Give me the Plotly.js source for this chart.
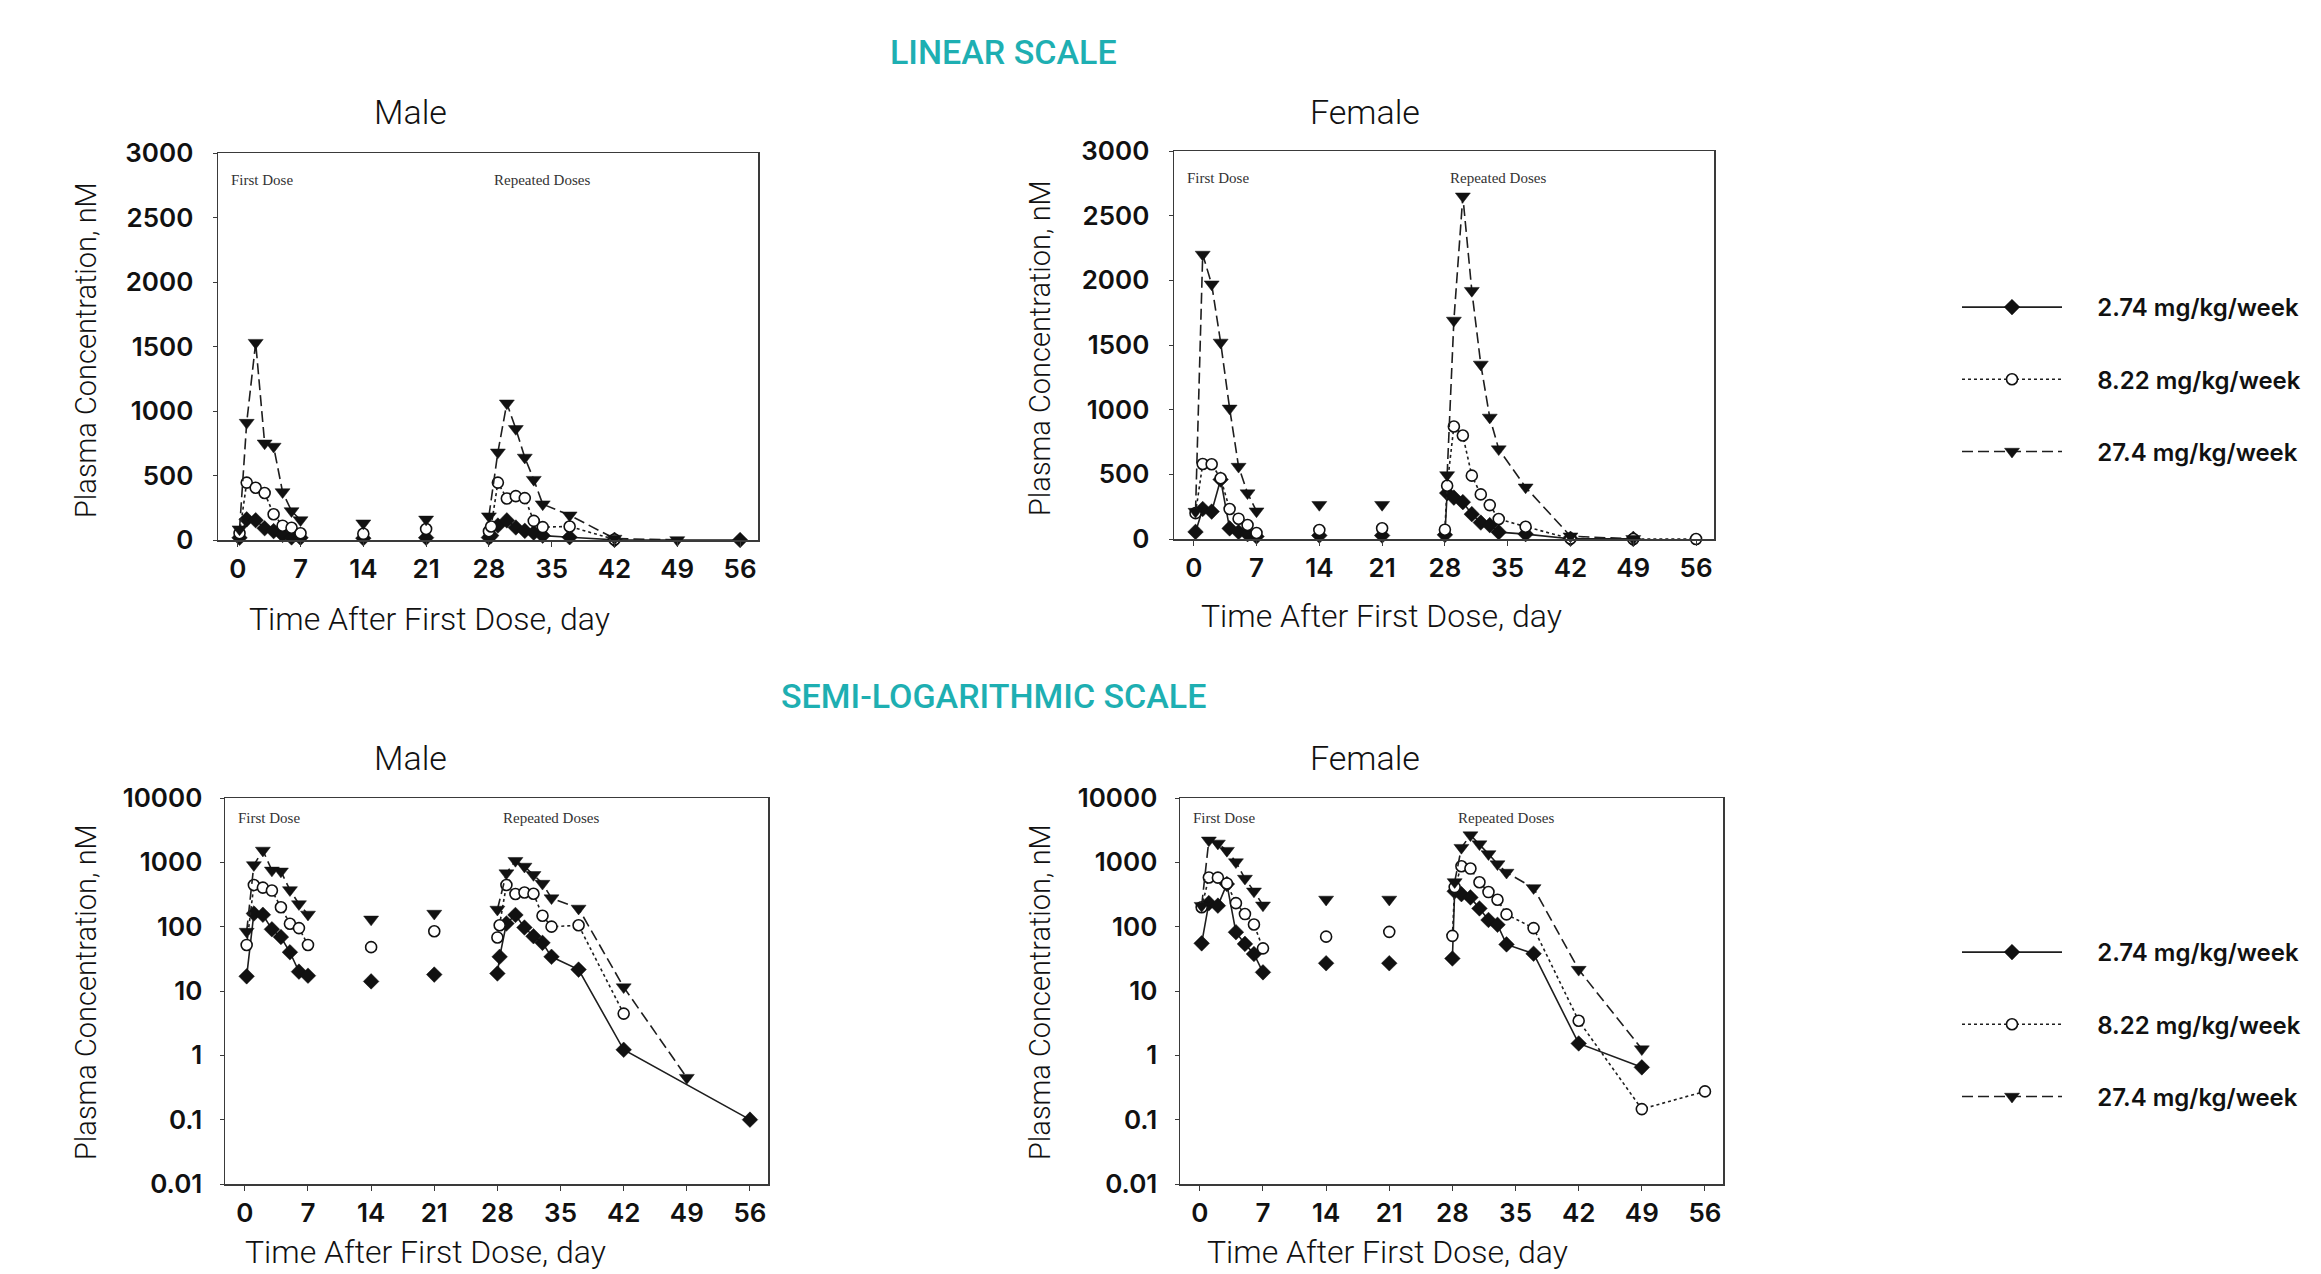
<!DOCTYPE html>
<html>
<head>
<meta charset="utf-8">
<script src="https://cdn.plot.ly/plotly-3.0.1.min.js"></script>
<style>html,body{margin:0;padding:0;background:#fff;}#chart{width:2321px;height:1274px;}</style>
</head>
<body>
<div id="chart"></div>
<script>
// ---- DATA ----
const days = [0.2, 1, 2, 3, 4, 5, 6, 7, 14, 21, 28, 28.25, 29, 30, 31, 32, 33, 34, 37, 42, 49, 56];
const phase = ['first','first','first','first','first','first','first','first',
               'interim','interim',
               'repeated','repeated','repeated','repeated','repeated','repeated','repeated','repeated','repeated','repeated','repeated','repeated'];
const doseLabels = ['2.74 mg/kg/week', '8.22 mg/kg/week', '27.4 mg/kg/week'];

const male_274  = [16.9, 160, 153, 91, 69, 40, 20, 17.3, 14.1, 18, 18.7, 34, 112, 152, 97, 71, 56, 34, 21.5, 1.22, null, 0.1];
const male_822  = [52, 445, 405, 364, 200, 111, 95, 52, 48, 85, 68, 105, 445, 322, 340, 325, 148, 100, 105, 4.45, null, null];
const male_2740 = [84, 910, 1530, 750, 725, 372, 225, 155, 130, 160, 185, null, 680, 1060, 862, 640, 468, 278, 192, 11.5, 0.45, null];

const female_274  = [55, 232, 212, 460, 82, 54, 37.6, 19.5, 27, 27, 32, 355, 320, 285, 192, 127, 107, 53, 38, 1.53, 0.65, null];
const female_822  = [200, 580, 578, 470, 232, 157, 108, 46, 70, 83, 72, 412, 870, 800, 490, 345, 262, 155, 95, 3.45, 0.146, 0.275];
const female_2740 = [212, 2200, 1970, 1520, 1010, 560, 355, 215, 265, 265, null, 495, 1690, 2650, 1920, 1350, 940, 695, 400, 21.5, 1.25, null];

const xTicks = [0, 7, 14, 21, 28, 35, 42, 49, 56];
const linTicks = [0, 500, 1000, 1500, 2000, 2500, 3000];
const logTicks = [0.01, 0.1, 1, 10, 100, 1000, 10000];
const logTickText = ['0.01', '0.1', '1', '10', '100', '1000', '10000'];

// ---- STYLES ----
const lineCol = '#1e1e1e';
const styles = [
  {dash: 'solid', symbol: 'diamond', size: 12, fill: '#111', lw: 1.6},
  {dash: 'dot', symbol: 'circle', size: 11, fill: '#ffffff', lw: 1.6},
  {dash: '11px,5px', symbol: 'triangle-down', size: 13, fill: '#111', lw: 1.6}
];
const legendPad = '\u00a0\u00a0\u00a0\u00a0\u00a0';

const traces = [];
function addSeries(vals, doseIdx, xa, ya, legendId, showLeg) {
  const st = styles[doseIdx];
  ['first', 'interim', 'repeated'].forEach(function (ph, k) {
    const xs = [], ys = [];
    days.forEach(function (d, i) {
      if (phase[i] === ph && vals[i] !== null) { xs.push(d); ys.push(vals[i]); }
    });
    traces.push({
      type: 'scatter',
      x: xs, y: ys,
      xaxis: xa, yaxis: ya,
      mode: ph === 'interim' ? 'markers' : 'lines+markers',
      name: legendPad + doseLabels[doseIdx],
      legend: legendId,
      legendgroup: legendId + '-' + doseIdx,
      showlegend: showLeg && k === 0,
      cliponaxis: false,
      line: {color: lineCol, width: st.lw, dash: st.dash},
      marker: {symbol: st.symbol, size: st.size, color: st.fill,
               line: {color: '#111', width: doseIdx === 1 ? 1.6 : 0.5}},
      hoverinfo: 'x+y+name'
    });
  });
}

const maleSets = [male_274, male_822, male_2740];
const femaleSets = [female_274, female_822, female_2740];
[0, 1, 2].forEach(function (i) {
  addSeries(maleSets[i], i, 'x', 'y', 'legend', true);
  addSeries(femaleSets[i], i, 'x2', 'y2', 'legend', false);
  addSeries(maleSets[i], i, 'x3', 'y3', 'legend2', true);
  addSeries(femaleSets[i], i, 'x4', 'y4', 'legend2', false);
});

// ---- LAYOUT ----
const W = 2321, H = 1274;
const tickFont = {family: 'Inter, "Noto Sans", sans-serif', size: 26, color: '#111', weight: 600};
function px(x) { return x / W; }
function py(y) { return 1 - y / H; }

function xAxis(l, r, anchor) {
  return {
    domain: [px(l), px(r)], anchor: anchor, range: [-2.2, 58],
    tickvals: xTicks, ticktext: xTicks.map(String),
    showline: true, mirror: true, linecolor: '#3a3a3a', linewidth: 1.5,
    ticks: 'outside', ticklen: 5, tickcolor: '#3a3a3a',
    ticklabelstandoff: 0,
    showgrid: false, zeroline: false, tickfont: tickFont
  };
}
function yLin(t, b, anchor) {
  return {
    domain: [py(b), py(t)], anchor: anchor, range: [0, 3000],
    tickvals: linTicks, ticktext: linTicks.map(String),
    showline: true, mirror: true, linecolor: '#3a3a3a', linewidth: 1.5,
    ticks: 'outside', ticklen: 4, tickcolor: '#3a3a3a', ticklabelstandoff: 14,
    showgrid: false, zeroline: false, tickfont: tickFont
  };
}
function yLog(t, b, anchor) {
  return {
    type: 'log', domain: [py(b), py(t)], anchor: anchor, range: [-2, 4],
    tickvals: logTicks, ticktext: logTickText,
    showline: true, mirror: true, linecolor: '#3a3a3a', linewidth: 1.5,
    ticks: 'outside', ticklen: 4, tickcolor: '#3a3a3a', ticklabelstandoff: 12,
    showgrid: false, zeroline: false, tickfont: tickFont
  };
}

const titleFont = {family: 'Roboto, "Open Sans", sans-serif', size: 34, color: '#111', weight: 300};
const axTitleFont = {family: 'Roboto, "Open Sans", sans-serif', size: 32, color: '#111', weight: 300};
const yTitleFont = {family: 'Roboto, "Open Sans", sans-serif', size: 29, color: '#111', weight: 300};
const headFont = {family: 'Roboto, "Open Sans", sans-serif', size: 34, color: '#1eafb2', weight: 500};
const noteFont = {family: '"Liberation Serif", "DejaVu Serif", serif', size: 15, color: '#333'};

function ann(text, x, y, font, extra) {
  return Object.assign({text: text, x: px(x), y: py(y), xref: 'paper', yref: 'paper',
    showarrow: false, xanchor: 'center', yanchor: 'middle', font: font}, extra || {});
}
function note(text, x, xa, ya, shift) {
  return {text: text, x: x, y: 1, xref: xa, yref: ya + ' domain', xanchor: 'left', yanchor: 'top',
    yshift: shift, showarrow: false, font: noteFont};
}

const annotations = [
  ann('LINEAR SCALE', 1003, 52, headFont),
  ann('SEMI-LOGARITHMIC SCALE', 993, 696, headFont),
  ann('Male', 410, 112, titleFont),
  ann('Female', 1365, 112, titleFont),
  ann('Male', 410, 758, titleFont),
  ann('Female', 1365, 758, titleFont),
  ann('Time After First Dose, day', 429, 619, axTitleFont),
  ann('Time After First Dose, day', 1381, 616, axTitleFont),
  ann('Time After First Dose, day', 425, 1252, axTitleFont),
  ann('Time After First Dose, day', 1387, 1252, axTitleFont),
  ann('Plasma Concentration, nM', 86, 350, yTitleFont, {textangle: -90}),
  ann('Plasma Concentration, nM', 1040, 348, yTitleFont, {textangle: -90}),
  ann('Plasma Concentration, nM', 86, 992, yTitleFont, {textangle: -90}),
  ann('Plasma Concentration, nM', 1040, 992, yTitleFont, {textangle: -90}),
  note('First Dose', -1.0, 'x', 'y', -17),
  note('Repeated Doses', 28.4, 'x', 'y', -17),
  note('First Dose', -1.0, 'x2', 'y2', -17),
  note('Repeated Doses', 28.4, 'x2', 'y2', -17),
  note('First Dose', -1.0, 'x3', 'y3', -10),
  note('Repeated Doses', 28.4, 'x3', 'y3', -10),
  note('First Dose', -1.0, 'x4', 'y4', -10),
  note('Repeated Doses', 28.4, 'x4', 'y4', -10)
];

const legendFont = {family: 'Inter, "Noto Sans", sans-serif', size: 24, color: '#111', weight: 600};
function legendBox(x, y) {
  return {x: px(x), y: py(y), xanchor: 'left', yanchor: 'top', font: legendFont,
    bgcolor: 'rgba(0,0,0,0)', borderwidth: 0, tracegroupgap: 38, itemwidth: 100,
    itemsizing: 'trace', traceorder: 'grouped'};
}

const layout = {
  width: W, height: H,
  margin: {l: 0, r: 0, t: 0, b: 0},
  paper_bgcolor: '#ffffff', plot_bgcolor: '#ffffff',
  showlegend: true,
  xaxis: xAxis(218, 758, 'y'),
  yaxis: yLin(153, 540, 'x'),
  xaxis2: xAxis(1174, 1714, 'y2'),
  yaxis2: yLin(151, 539, 'x2'),
  xaxis3: xAxis(225, 768, 'y3'),
  yaxis3: yLog(798, 1184, 'x3'),
  xaxis4: xAxis(1180, 1723, 'y4'),
  yaxis4: yLog(798, 1184, 'x4'),
  legend: legendBox(1957, 285),
  legend2: legendBox(1957, 930),
  annotations: annotations
};

Plotly.newPlot('chart', traces, layout, {staticPlot: true, displayModeBar: false});
</script>
</body>
</html>
